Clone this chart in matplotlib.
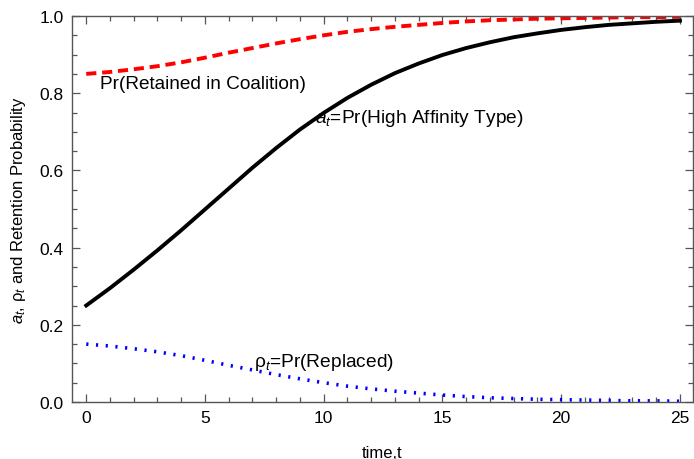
import matplotlib
matplotlib.use("Agg")
import matplotlib.pyplot as plt
from matplotlib.ticker import MultipleLocator

plt.rcParams['font.family'] = ['Liberation Sans', 'DejaVu Sans']
plt.rcParams['mathtext.fontset'] = 'custom'
plt.rcParams['mathtext.rm'] = 'Liberation Sans'
plt.rcParams['mathtext.it'] = 'Liberation Sans:italic'

# data
time = list(range(0, 26))
high_affinity = [0.25, 0.295, 0.343, 0.393, 0.445, 0.499, 0.553, 0.607, 0.658, 0.706,
                 0.749, 0.788, 0.822, 0.852, 0.877, 0.899, 0.917, 0.932, 0.945, 0.955,
                 0.964, 0.971, 0.977, 0.981, 0.985, 0.988]
replaced = [0.150, 0.145, 0.138, 0.130, 0.120, 0.108, 0.095, 0.083, 0.071, 0.060,
            0.050, 0.041, 0.034, 0.028, 0.023, 0.018, 0.014, 0.011, 0.009, 0.007,
            0.006, 0.005, 0.004, 0.003, 0.003, 0.002]
retained = [1 - r for r in replaced]

fig = plt.figure(figsize=(6.94, 4.6), dpi=100)
ax = fig.add_axes([72/694, 1-403/460, (693-72)/694, (403-17)/460])

ax.plot(time, retained, color='#ff0000', lw=2.8, linestyle=(0, (2.6, 1.5)), dash_capstyle='butt')
ax.plot(time, high_affinity, color='black', lw=2.8)
ax.plot(time, replaced, color='#0000ff', lw=2.6, linestyle=(0, (0.6, 2.1)), dash_capstyle='butt')

ax.set_xlim(-0.6, 25.55)
ax.set_ylim(0, 1.0)
ax.xaxis.set_major_locator(MultipleLocator(5))
ax.xaxis.set_minor_locator(MultipleLocator(1))
ax.yaxis.set_major_locator(MultipleLocator(0.2))
ax.yaxis.set_minor_locator(MultipleLocator(0.05))
ax.yaxis.set_major_formatter(plt.FuncFormatter(lambda v, p: f"{v:.1f}"))
ax.tick_params(which='both', direction='in', top=True, right=True, color='#555555', width=0.9)
ax.tick_params(which='major', length=6, labelsize=12.5, pad=6)
ax.tick_params(which='minor', length=3.5)
for s in ax.spines.values():
    s.set_color('#555555')
    s.set_linewidth(1.0)

ax.set_xlabel('time,t', fontsize=12, labelpad=14)
ax.set_ylabel('$a_t$, ρ$_t$ and Retention Probability', fontsize=12, labelpad=8)

ax.text(0.59, 0.826, 'Pr(Retained in Coalition)', fontsize=13.7, va='center', ha='left')
ax.text(9.64, 0.738, '$a_t$=Pr(High Affinity Type)', fontsize=13.8, va='center', ha='left')
ax.text(7.07, 0.104, 'ρ$_t$=Pr(Replaced)', fontsize=13.8, va='center', ha='left')

fig.savefig('out.png', dpi=100)
